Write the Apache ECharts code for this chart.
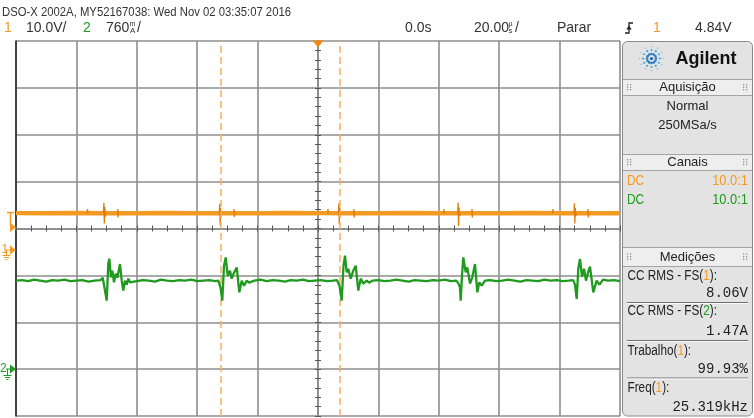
<!DOCTYPE html>
<html><head><meta charset="utf-8">
<script src="https://cdn.jsdelivr.net/npm/echarts@6/dist/echarts.min.js"></script>
<style>html,body{margin:0;padding:0;background:#fff}#c{width:754px;height:418px}</style>
</head><body><div id="c"></div>
<script>
// ---------------- data ----------------
// time axis in microseconds (20 us/div, 10 divisions, centre 0)
const timeMin = -100, timeMax = 100, timePerDiv = 20;
// vertical: 8 divisions
const divMin = -4, divMax = 4;
// channel 1: 10 V/div, ground marker 0.474 div below centre
const ch1VoltsPerDiv = 10, ch1GroundDiv = -0.474;
// channel 2: 760 mA/div, ground marker 3 div below centre
const ch2AmpsPerDiv = 0.76, ch2GroundDiv = -3;
// cursor X1 / X2 (us)
const cursorTimes = [-32.3, 7.05];

// channel 1 (orange) thick baseline, volts
const orangeT = [-100,-90,-80,-70,-60,-50,-40,-30,-20,-10,0,10,20,30,40,50,60,70,80,90,100];
const orangeV = [8.02,8.00,8.03,8.01,8.02,8.03,8.00,8.02,8.01,8.03,8.02,8.00,8.02,8.03,8.01,8.02,8.00,8.03,8.02,8.01,8.02];

// channel 1 switching glitches (null = gap)
const spikeT = [
 -76.4,-76.3,-76.2,-76.1,
 -71.05,-70.9,-70.75,-70.6,-70.45,-70.2,-70.1,
 -66.4,-66.3,-66.2,-66.1,-66.0,
 -32.7,-32.55,-32.4,-32.25,-32.1,-31.9,-31.8,
 -27.9,-27.8,-27.7,-27.6,-27.5,
 3.2,3.3,3.4,3.5,
 6.75,6.9,7.05,7.2,7.35,7.6,7.7,
 11.8,11.9,12.0,12.1,12.2,
 41.6,41.7,41.8,41.9,
 46.25,46.4,46.55,46.7,46.85,47.1,47.2,
 50.9,51.0,51.1,51.2,51.3,
 77.7,77.8,77.9,78.0,
 84.75,84.9,85.05,85.2,85.35,85.6,85.7,
 89.3,89.4,89.5,89.6
];
const spikeV = [
 8.0,8.9,8.0,null,
 8.0,10.2,5.8,9.3,7.3,8.0,null,
 8.0,8.9,7.1,8.0,null,
 8.0,10.0,5.4,9.1,7.4,8.0,null,
 8.0,8.9,7.2,8.0,null,
 8.0,8.9,8.0,null,
 8.0,10.1,5.6,9.2,7.4,8.0,null,
 8.0,8.9,7.1,8.0,null,
 8.0,8.9,8.0,null,
 8.0,10.3,5.3,9.2,7.4,8.0,null,
 8.0,8.9,7.1,8.0,null,
 8.0,8.9,8.0,null,
 8.0,10.1,5.8,9.1,7.4,8.0,null,
 8.0,8.9,7.1,8.0
];

// channel 2 (green) current, amps
const greenT = [
 -100,-98,-96,-94,-92,-90,-88,-86,-84,-82,-80,-78,-76,-74,-72,
 -71.29,-71.09,-70.53,-69.97,-69.44,-69.11,-68.54,-68.11,-67.55,-66.99,-66.46,-65.56,-65.00,-64.47,-63.91,-63.34,-62.81,-62.25,-61.69,
 -60,-58,-56,-54,-52,-50,-48,-46,-44,-42,-40,-38,-36,-34,-33,
 -32.28,-31.69,-31.13,-30.56,-29.90,-29.14,-28.58,-27.81,-26.92,-26.06,-25.27,-24.50,-23.61,-22.85,
 -21,-19,-17,-15,-13,-11,-9,-7,-5,-3,-1,1,3,5,6.3,
 7.12,7.85,8.44,8.94,9.50,10.03,10.83,11.69,12.48,13.34,14.14,15.00,16.13,16.89,
 18,20,22,24,26,28,30,32,34,36,38,40,42,44,45.8,
 46.52,47.02,47.25,47.68,48.11,48.91,49.44,50.33,51.09,51.99,52.75,53.41,54.21,55.30,
 57,59,61,63,65,67,69,71,73,75,77,79,81,83,84.5,
 85.10,85.66,86.19,86.75,87.42,88.08,88.74,89.40,90.07,91.16,92.28,93.21,94.37,
 96,98,100
];
const greenA = [
 1.434,1.442,1.426,1.450,1.434,1.418,1.442,1.434,1.450,1.426,1.434,1.442,1.418,1.434,1.442,
 1.483,1.515,1.273,1.111,1.709,1.790,1.488,1.596,1.407,1.547,1.483,1.704,1.434,1.273,1.434,1.370,1.467,1.407,1.434,
 1.426,1.442,1.434,1.418,1.450,1.434,1.426,1.442,1.434,1.450,1.426,1.434,1.442,1.426,1.434,
 1.321,1.111,1.677,1.811,1.515,1.596,1.467,1.564,1.649,1.245,1.434,1.353,1.434,1.402,
 1.434,1.450,1.426,1.442,1.434,1.418,1.442,1.434,1.450,1.426,1.434,1.442,1.426,1.434,1.442,
 1.353,1.111,1.677,1.839,1.569,1.628,1.467,1.596,1.677,1.273,1.467,1.386,1.434,1.402,
 1.434,1.442,1.426,1.434,1.450,1.434,1.418,1.442,1.434,1.426,1.442,1.434,1.450,1.426,1.434,
 1.386,1.326,1.111,1.515,1.811,1.569,1.649,1.386,1.488,1.704,1.245,1.407,1.353,1.434,
 1.442,1.426,1.434,1.450,1.434,1.418,1.442,1.434,1.426,1.450,1.434,1.442,1.426,1.434,1.442,
 1.370,1.138,1.628,1.785,1.499,1.628,1.434,1.564,1.661,1.245,1.434,1.370,1.450,
 1.434,1.442,1.426
];

// texts
const titleText = 'DSO-X 2002A, MY52167038: Wed Nov 02 03:35:07 2016';
const ch1Setting = '10.0V/', ch2Setting = '760';
const delayText = '0.0s', timebaseText = '20.00', runText = 'Parar', trigLevelText = '4.84V';
const acqMode = 'Normal', sampleRate = '250MSa/s';
const probeRatio = ['10.0:1', '10.0:1'];
const measLabels = [['CC RMS - FS(', '1', '):'], ['CC RMS - FS(', '2', '):'], ['Trabalho(', '1', '):'], ['Freq(', '1', '):']];
const measValues = ['8.06V', '1.47A', '99.93%', '25.319kHz'];

// ---------------- chart ----------------
const ORANGE = '#f39a24', GREEN = '#1f9a1f', GRIDC = '#8e8e8e', TICKC = '#555';
const SANS = "'Liberation Sans', Arial, sans-serif";
const MONO = "'Liberation Mono', 'DejaVu Sans Mono', monospace";

const ch1Min = (divMin - ch1GroundDiv) * ch1VoltsPerDiv, ch1Max = (divMax - ch1GroundDiv) * ch1VoltsPerDiv;
const ch2Min = (divMin - ch2GroundDiv) * ch2AmpsPerDiv, ch2Max = (divMax - ch2GroundDiv) * ch2AmpsPerDiv;

const orangeData = orangeT.map((t, i) => [t, orangeV[i]]);
const spikeData = spikeT.map((t, i) => [t, spikeV[i] == null ? '-' : spikeV[i]]);
const greenData = greenT.map((t, i) => [t, greenA[i]]);

const G = [];
function txt(s, x, y, o, sx) { G.push({ type: 'text', x: x, y: y, scaleX: sx || 1, z: 20, silent: true, style: Object.assign({ text: s, fill: '#222', font: '13px ' + SANS, align: 'left', verticalAlign: 'middle' }, o || {}) }); }
function ln(x1, y1, x2, y2, c, w) { G.push({ type: 'line', z: 20, silent: true, shape: { x1, y1, x2, y2 }, style: { stroke: c, lineWidth: w || 1 } }); }
function poly(pts, c) { G.push({ type: 'polygon', z: 20, silent: true, shape: { points: pts }, style: { fill: c } }); }
function pline(pts, c, w) { G.push({ type: 'polyline', z: 20, silent: true, shape: { points: pts }, style: { stroke: c, lineWidth: w || 1, fill: null } }); }
function rect(x, y, w, h, fill, stroke, r, z) { G.push({ type: 'rect', z: z || 15, silent: true, shape: { x, y, width: w, height: h, r: r || 0 }, style: { fill: fill, stroke: stroke || null, lineWidth: 1 } }); }
function circ(cx, cy, r, c) { G.push({ type: 'circle', z: 20, silent: true, shape: { cx, cy, r }, style: { fill: c } }); }

// top status rows
txt(titleText, 2, 12.5, { font: '13px ' + SANS, fill: '#333' }, 0.87);
txt('1', 4, 28.5, { fill: ORANGE, font: '14px ' + SANS });
txt(ch1Setting, 26, 28.5, { fill: '#333', font: '14px ' + SANS });
txt('2', 83, 28.5, { fill: GREEN, font: '14px ' + SANS });
txt(ch2Setting, 106, 28.5, { fill: '#333', font: '14px ' + SANS });
txt('m', 129.5, 24.5, { fill: '#333', font: '7px ' + SANS });
txt('A', 130, 31, { fill: '#333', font: '8px ' + SANS });
txt('/', 137, 28.5, { fill: '#333', font: '14px ' + SANS });
txt(delayText, 405, 28.5, { fill: '#333', font: '14px ' + SANS });
txt(timebaseText, 474, 28.5, { fill: '#333', font: '14px ' + SANS });
txt('µ', 508.5, 24.5, { fill: '#333', font: '7px ' + SANS });
txt('s', 508.5, 31, { fill: '#333', font: '8px ' + SANS });
txt('/', 515, 28.5, { fill: '#333', font: '14px ' + SANS });
txt(runText, 557, 28.5, { fill: '#333', font: '14px ' + SANS });
pline([[625, 33], [629, 33], [629, 23], [633, 23]], '#222', 1.3);
poly([[626.3, 29.5], [631.7, 29.5], [629, 25.5]], '#222');
txt('1', 653, 28.5, { fill: ORANGE, font: '14px ' + SANS });
txt(trigLevelText, 695, 28.5, { fill: '#333', font: '14px ' + SANS });

// left markers
ln(7, 212.5, 14, 212.5, ORANGE, 1.5);
ln(10.5, 212.5, 10.5, 226, ORANGE, 1.5);
poly([[10, 222.5], [16, 227.2], [10, 232]], ORANGE);
txt('1', 1.5, 249.5, { fill: ORANGE, font: '12px ' + SANS });
ln(6, 250, 10.5, 250, ORANGE, 1);
poly([[10, 245.5], [16, 250], [10, 254.5]], ORANGE);
ln(6.5, 250, 6.5, 255.5, ORANGE, 1);
ln(2.5, 255.5, 10.5, 255.5, ORANGE, 1);
ln(4, 257.5, 9, 257.5, ORANGE, 1);
ln(5.5, 259.5, 7.5, 259.5, ORANGE, 1);
txt('2', 0, 368.5, { fill: GREEN, font: '12px ' + SANS });
ln(6, 369, 10.5, 369, GREEN, 1);
poly([[10, 364.5], [16, 369], [10, 373.5]], GREEN);
ln(7.5, 369, 7.5, 375.5, GREEN, 1);
ln(3.5, 375.5, 11.5, 375.5, GREEN, 1);
ln(5, 377.5, 10, 377.5, GREEN, 1);
ln(6.5, 379.5, 8.5, 379.5, GREEN, 1);

// right panel
rect(622.5, 41.5, 130, 374.5, '#e3e3e3', '#8a8a8a', 5, 12);
function grip(cx, cy) { for (const i of [-1, 1]) for (const j of [-1, 0, 1]) rect(cx + i * 1.5 - 0.5, cy + j * 2.5 - 0.5, 1.2, 1.2, '#8a8a8a', null, 0, 18); }
function header(y0, y1, label) {
  rect(623, y0, 129, y1 - y0, '#eeeeee', null, 0, 14);
  ln(623, y0 + 0.5, 752, y0 + 0.5, '#a4a4a4', 1);
  ln(623, y1 + 0.5, 752, y1 + 0.5, '#a4a4a4', 1);
  txt(label, 687.5, (y0 + y1) / 2 + 0.5, { align: 'center', font: '13px ' + SANS });
  grip(629, (y0 + y1) / 2); grip(745, (y0 + y1) / 2);
}
// logo
(function () {
  const cx = 651.5, cy = 58.5;
  for (let a = 0; a < 12; a++) {
    const ang = a * Math.PI / 6;
    [[4.5, 1.3, '#2b78bf'], [8.5, 1.1, '#3aa9dc'], [12, 0.8, '#7cc9ec']].forEach(function (d) {
      circ(cx + d[0] * Math.cos(ang), cy + d[0] * Math.sin(ang), d[1], d[2]);
    });
  }
  circ(cx, cy, 1.6, '#1d5fa6');
})();
txt('Agilent', 675.5, 59, { font: 'bold 18px ' + SANS, fill: '#111' });
header(79, 95, 'Aquisição');
txt(acqMode, 687.5, 106, { align: 'center' });
txt(sampleRate, 687.5, 125, { align: 'center' });
header(154, 170, 'Canais');
txt('DC', 627, 181.5, { fill: ORANGE, font: '14px ' + SANS }, 0.85);
txt(probeRatio[0], 748, 181.5, { fill: ORANGE, align: 'right', font: '14px ' + SANS }, 0.92);
txt('DC', 627, 200, { fill: GREEN, font: '14px ' + SANS }, 0.85);
txt(probeRatio[1], 748, 200, { fill: GREEN, align: 'right', font: '14px ' + SANS }, 0.92);
header(247, 266, 'Medições');
const labelY = [276.5, 311.5, 351, 388.5], valueY = [293.5, 331, 369.5, 407], sepY = [302.5, 340.5, 378];
measLabels.forEach(function (m, i) {
  const chColor = m[1] === '2' ? GREEN : ORANGE;
  txt('{a|' + m[0] + '}{b|' + m[1] + '}{a|' + m[2] + '}', 627.5, labelY[i], {
    font: '14px ' + SANS,
    rich: { a: { fill: '#222', font: '14px ' + SANS }, b: { fill: chColor, font: '14px ' + SANS } }
  }, 0.84);
  txt(measValues[i], 748, valueY[i], { align: 'right', font: '14px ' + MONO, fill: '#222' });
});
sepY.forEach(function (y) { ln(627, y, 748, y, '#6e6e6e', 1); ln(627, y + 1, 748, y + 1, '#fafafa', 1); });

const tickStyle = { color: TICKC, width: 1 };
const baseX = {
  type: 'value', min: timeMin, max: timeMax, interval: timePerDiv,
  axisLabel: { show: false }, splitLine: { show: false },
  axisLine: { show: true, onZero: true, onZeroAxisIndex: 0, lineStyle: { color: GRIDC, width: 1.6 } },
  axisTick: { show: true, length: 3, lineStyle: tickStyle },
  minorTick: { show: true, splitNumber: 4, length: 3, lineStyle: tickStyle }
};
const baseY = {
  type: 'value', min: divMin, max: divMax, interval: 1,
  axisLabel: { show: false }, splitLine: { show: false },
  axisLine: { show: true, onZero: true, onZeroAxisIndex: 0, lineStyle: { color: GRIDC, width: 1.6 } },
  axisTick: { show: true, length: 3, lineStyle: tickStyle },
  minorTick: { show: true, splitNumber: 5, length: 3, lineStyle: tickStyle }
};

const option = {
  animation: false,
  backgroundColor: '#ffffff',
  grid: { left: 16, top: 41, width: 604, height: 375, show: false },
  xAxis: [
    Object.assign({}, baseX, { position: 'bottom', splitLine: { show: true, lineStyle: { color: GRIDC, width: 1.6 } } }),
    Object.assign({}, baseX, { position: 'top' })
  ],
  yAxis: [
    Object.assign({}, baseY, { position: 'left', splitLine: { show: true, lineStyle: { color: GRIDC, width: 1.6 } } }),
    Object.assign({}, baseY, { position: 'right' }),
    { type: 'value', min: ch1Min, max: ch1Max, position: 'left', axisLabel: { show: false }, splitLine: { show: false }, axisTick: { show: false },
      axisLine: { show: true, onZero: false, lineStyle: { color: '#222', width: 1.5 } } },
    { type: 'value', min: ch2Min, max: ch2Max, show: false }
  ],
  graphic: G,
  series: [
    {
      type: 'line', xAxisIndex: 0, yAxisIndex: 2, data: orangeData, symbol: 'none', z: 3,
      lineStyle: { color: ORANGE, width: 4.5 },
      markLine: {
        silent: true, symbol: ['none', 'none'], label: { show: false },
        lineStyle: { type: [7, 4], color: '#f7b060', width: 1.5 },
        data: cursorTimes.map(function (t) { return { xAxis: t }; })
      },
      markPoint: {
        silent: true, label: { show: false },
        data: [{ coord: [0, ch1Max], symbol: 'triangle', symbolSize: [11, 7], symbolRotate: 180, symbolOffset: [0, 3], itemStyle: { color: '#f28a10' } }]
      }
    },
    { type: 'line', xAxisIndex: 0, yAxisIndex: 2, data: spikeData, symbol: 'none', z: 4, connectNulls: false,
      lineStyle: { color: '#e07d0c', width: 1.3 } },
    { type: 'line', xAxisIndex: 0, yAxisIndex: 3, data: greenData, symbol: 'none', z: 5,
      lineStyle: { color: GREEN, width: 2.3 } }
  ]
};
const chart = echarts.init(document.getElementById('c'), null, { renderer: 'canvas' });
chart.setOption(option);
</script>
</body></html>
